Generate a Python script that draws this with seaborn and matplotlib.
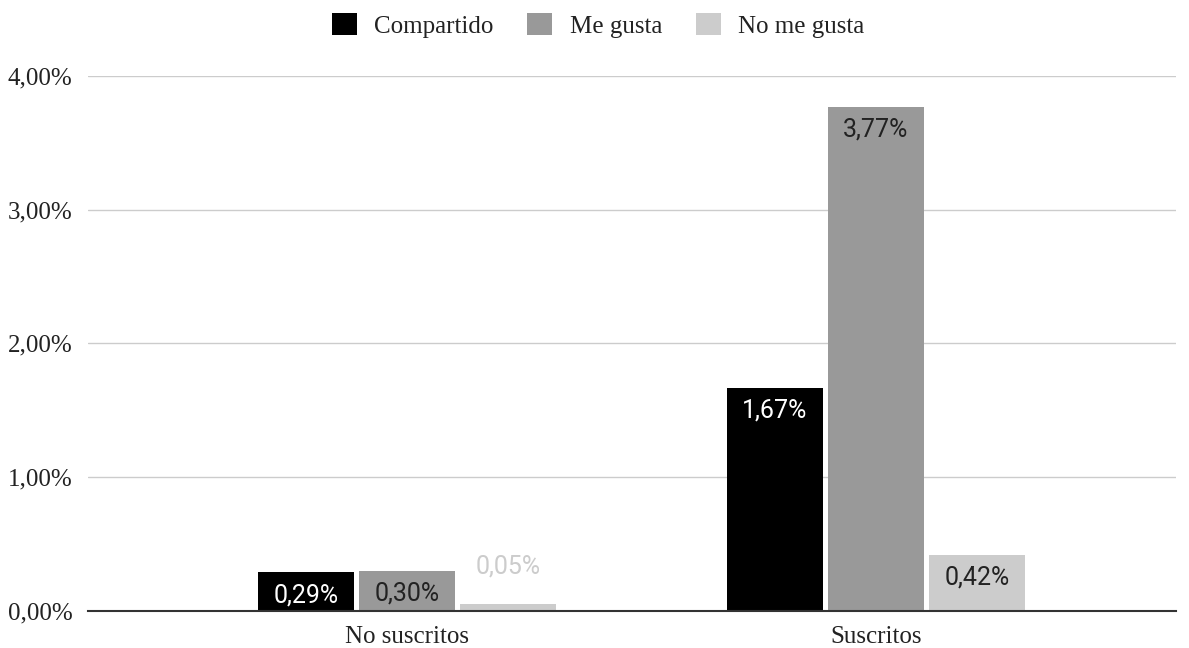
import pandas as pd
import matplotlib.pyplot as plt
import seaborn as sns
from matplotlib.patches import Patch
from matplotlib.ticker import FuncFormatter, MultipleLocator

# Datos (porcentajes)
grupos = ['No suscritos', 'Suscritos']
series = ['Compartido', 'Me gusta', 'No me gusta']
compartido = [0.29, 1.67]
me_gusta = [0.30, 3.77]
no_me_gusta = [0.05, 0.42]
colores = ['#000000', '#999999', '#cccccc']
color_etiqueta = ['#ffffff', '#222222', '#222222']

df = pd.DataFrame({
    'grupo': grupos * 3,
    'serie': [s for s in series for _ in grupos],
    'valor': compartido + me_gusta + no_me_gusta,
})

sns.set_style('white')
serif = ['Liberation Serif', 'DejaVu Serif']
plt.rcParams['font.family'] = serif

fig = plt.figure(figsize=(11.89, 6.48), dpi=100)
ax = fig.add_axes([0.074, 0.057, 0.915, 0.826])

sns.barplot(data=df, x='grupo', y='valor', hue='serie', hue_order=series,
            palette=colores, saturation=1, width=0.646, gap=0.05,
            edgecolor='none', legend=False, ax=ax)

# Etiquetas de valor
for cont, col in zip(ax.containers, color_etiqueta):
    for bar in cont:
        h = bar.get_height()
        x = bar.get_x() + bar.get_width() / 2
        txt = f'{h:.2f}%'.replace('.', ',')
        if h > 0.15:
            ax.annotate(txt, (x, h), xytext=(0, -16.5), textcoords='offset points',
                        ha='center', va='center', color=col, fontsize=18,
                        family=['Roboto', 'DejaVu Sans'])
        else:
            ax.annotate(txt, (x, h), xytext=(0, 27), textcoords='offset points',
                        ha='center', va='center', color='#cccccc', fontsize=18,
                        family=['Roboto', 'DejaVu Sans'])

ax.set_ylim(0, 4)
ax.set_xlim(-0.68, 1.64)
ax.yaxis.set_major_locator(MultipleLocator(1))
ax.yaxis.set_major_formatter(FuncFormatter(lambda v, p: f'{v:.2f}%'.replace('.', ',')))
ax.grid(axis='y', color='#cccccc', linewidth=1)
ax.set_axisbelow(True)
for s in ['left', 'right', 'top']:
    ax.spines[s].set_visible(False)
ax.spines['bottom'].set_color('#333333')
ax.spines['bottom'].set_linewidth(1.5)
ax.tick_params(axis='both', length=0, labelsize=18, labelcolor='#222222')
ax.tick_params(axis='y', pad=11)
ax.tick_params(axis='x', pad=10.5)
ax.set_xlabel('')
ax.set_ylabel('')

handles = [Patch(facecolor=c, edgecolor='none', label=s) for c, s in zip(colores, series)]
fig.legend(handles=handles, loc='center', bbox_to_anchor=(0.503, 0.961), ncol=3,
           frameon=False, fontsize=18, handlelength=1.0, handleheight=1.0,
           handletextpad=0.7, columnspacing=1.35, labelcolor='#222222')

fig.savefig('out.png', dpi=100)
